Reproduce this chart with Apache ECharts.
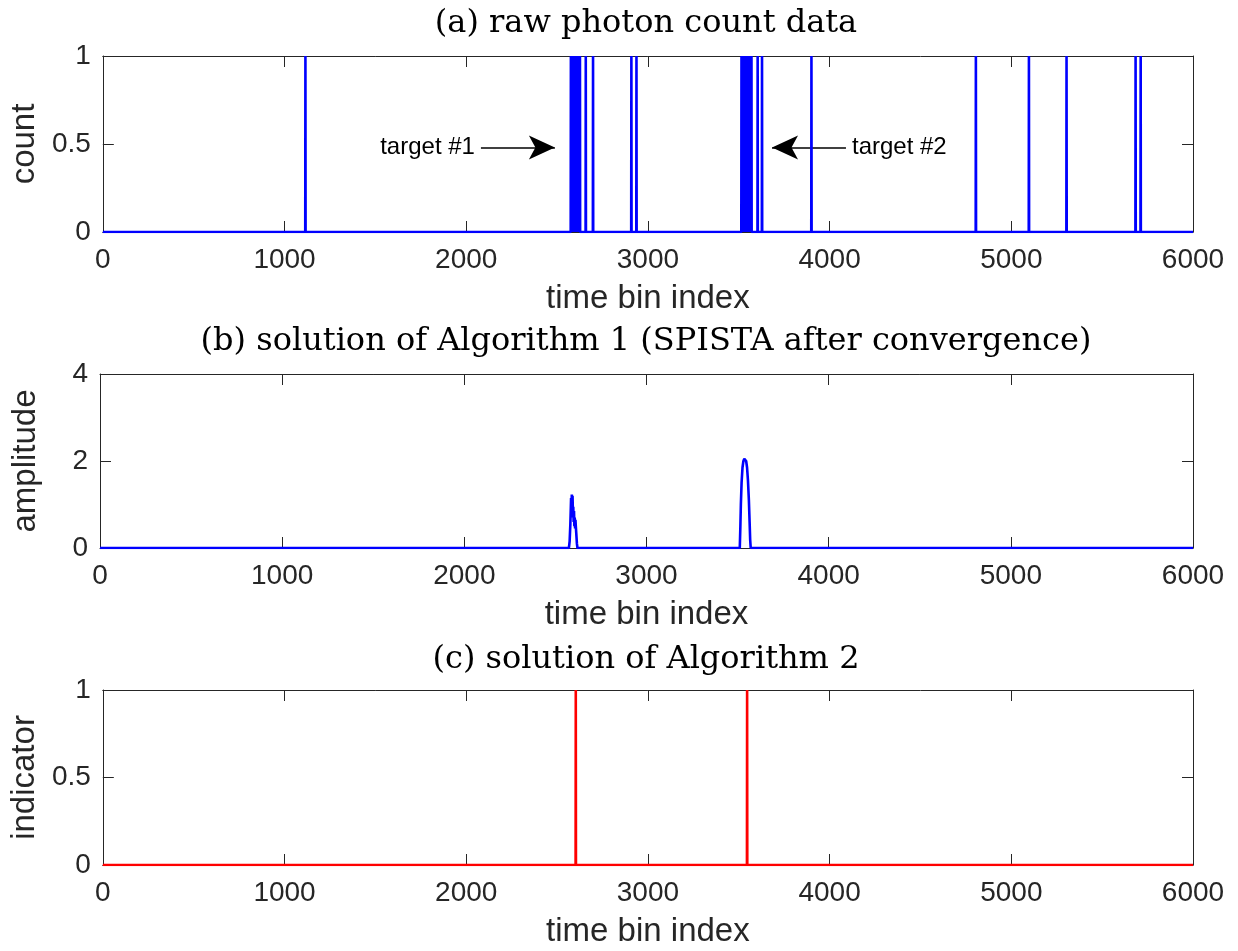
<!DOCTYPE html>
<html><head><meta charset="utf-8">
<script src="https://cdn.jsdelivr.net/npm/echarts@6/dist/echarts.min.js"></script>
<style>html,body{margin:0;padding:0;background:#fff}#c{width:1238px;height:951px}</style>
</head><body><div id="c"></div>
<script>
// ---- data ----
const xTicks = [0, 1000, 2000, 3000, 4000, 5000, 6000];
const photonBins = [1115,
  2576, 2581, 2586, 2591, 2596, 2601, 2606, 2611, 2616, 2621, 2626,
  2658, 2698, 2909, 2937,
  3515, 3520, 3525, 3530, 3535, 3540, 3545, 3550, 3555, 3560, 3565, 3570,
  3604, 3628, 3900, 4805, 5097, 5304, 5684, 5712];
const spistaX = [0, 2574, 2578, 2582, 2586, 2588, 2590, 2592, 2594, 2596, 2598, 2600, 2602, 2604, 2606, 2608, 2610, 2612, 2615, 2618, 2621,
  3512, 3515, 3518, 3522, 3527, 3532, 3537, 3542, 3547, 3552, 3557, 3562, 3566, 3569, 3572, 6000];
const spistaY = [0, 0, 0.15, 0.55, 1.15, 0.9, 1.23, 0.7, 1.2, 0.8, 0.95, 0.6, 0.85, 0.5, 0.7, 0.45, 0.65, 0.5, 0.3, 0.1, 0,
  0, 0.45, 1.0, 1.5, 1.85, 2.0, 2.05, 2.05, 2.0, 1.85, 1.55, 1.1, 0.6, 0.2, 0, 0];
const indicatorBins = [2603, 3546];
const panelTitles = ['(a) raw photon count data', '(b) solution of Algorithm 1 (SPISTA after convergence)', '(c) solution of Algorithm 2'];
const yNames = ['count', 'amplitude', 'indicator'];
const yMax = [1, 4, 1];
const yStep = [0.5, 2, 0.5];
const xName = 'time bin index';
const annotations = [
  { name: 'target #1', from: [2081, 0.48], to: [2488, 0.48] },
  { name: 'target #2', from: [4090, 0.48], to: [3683, 0.48] }
];

// ---- build ----
function spikes(bins) {
  const d = [[0, 0]];
  bins.forEach(b => { d.push([b - 1, 0], [b, 1], [b + 1, 0]); });
  d.push([6000, 0]);
  return d;
}
const axisColor = '#262626';
const tickFont = 'Liberation Sans, Arial, sans-serif';
const grids = [
  { left: 100, width: 1093, top: 56, height: 176 },
  { left: 100, width: 1093, top: 374, height: 174 },
  { left: 100, width: 1093, top: 690, height: 175 }
];
const xAxes = [], yAxes = [], titles = [];
const titleTops = [8, 326, 644];
const fmt = v => String(v);
grids.forEach((g, i) => {
  const baseX = {
    gridIndex: i, type: 'value', min: xTicks[0], max: xTicks[xTicks.length - 1], interval: xTicks[1] - xTicks[0],
    axisLine: { show: true, onZero: false, lineStyle: { color: axisColor, width: 1 } },
    axisTick: { show: true, inside: true, length: 11, lineStyle: { color: axisColor } },
    splitLine: { show: false }
  };
  xAxes.push(Object.assign({}, baseX, {
    position: 'bottom',
    axisLabel: { show: true, fontSize: 28, color: axisColor, fontFamily: tickFont, margin: 14, formatter: fmt },
    name: xName, nameLocation: 'middle', nameGap: 50,
    nameTextStyle: { fontSize: 33, color: axisColor, fontFamily: tickFont }
  }));
  xAxes.push(Object.assign({}, baseX, { position: 'top', axisLabel: { show: false } }));
  const baseY = {
    gridIndex: i, type: 'value', min: 0, max: yMax[i], interval: yStep[i],
    axisLine: { show: true, onZero: false, lineStyle: { color: axisColor, width: 1 } },
    axisTick: { show: true, inside: true, length: 11, lineStyle: { color: axisColor } },
    splitLine: { show: false }
  };
  yAxes.push(Object.assign({}, baseY, {
    position: 'left',
    axisLabel: { show: true, fontSize: 28, color: axisColor, fontFamily: tickFont, margin: 12, formatter: fmt },
    name: yNames[i], nameLocation: 'middle', nameGap: 58,
    nameTextStyle: { fontSize: 33, color: axisColor, fontFamily: tickFont }
  }));
  yAxes.push(Object.assign({}, baseY, { position: 'right', axisLabel: { show: false } }));
  titles.push({
    text: panelTitles[i], left: 646, top: titleTops[i], textAlign: 'center', padding: 0,
    textStyle: { fontFamily: 'DejaVu Serif, serif', fontWeight: 'normal', fontSize: 32, color: '#000' }
  });
});

const option = {
  animation: false,
  backgroundColor: '#fff',
  title: titles,
  grid: grids,
  xAxis: xAxes,
  yAxis: yAxes,
  series: [
    {
      type: 'line', xAxisIndex: 0, yAxisIndex: 0, data: spikes(photonBins), showSymbol: false,
      lineStyle: { color: '#0000ff', width: 2.6 }, z: 5,
      markLine: {
        silent: true, symbol: ['none', 'arrow'], symbolSize: [18, 26], animation: false,
        lineStyle: { color: '#000', width: 1.5, type: 'solid' },
        label: { show: true, position: 'start', formatter: '{b}', color: '#000', fontSize: 24, distance: 6,
          fontFamily: 'Liberation Sans Narrow, Arial Narrow, Liberation Sans, sans-serif' },
        data: annotations.map(a => [{ coord: a.from, name: a.name }, { coord: a.to }])
      }
    },
    {
      type: 'line', xAxisIndex: 2, yAxisIndex: 2, data: spistaX.map((x, k) => [x, spistaY[k]]), showSymbol: false,
      lineStyle: { color: '#0000ff', width: 2.6 }, z: 5
    },
    {
      type: 'line', xAxisIndex: 4, yAxisIndex: 4, data: spikes(indicatorBins), showSymbol: false,
      lineStyle: { color: '#ff0000', width: 2.6 }, z: 5
    }
  ]
};
const chart = echarts.init(document.getElementById('c'), null, { renderer: 'canvas' });
chart.setOption(option);
</script></body></html>
